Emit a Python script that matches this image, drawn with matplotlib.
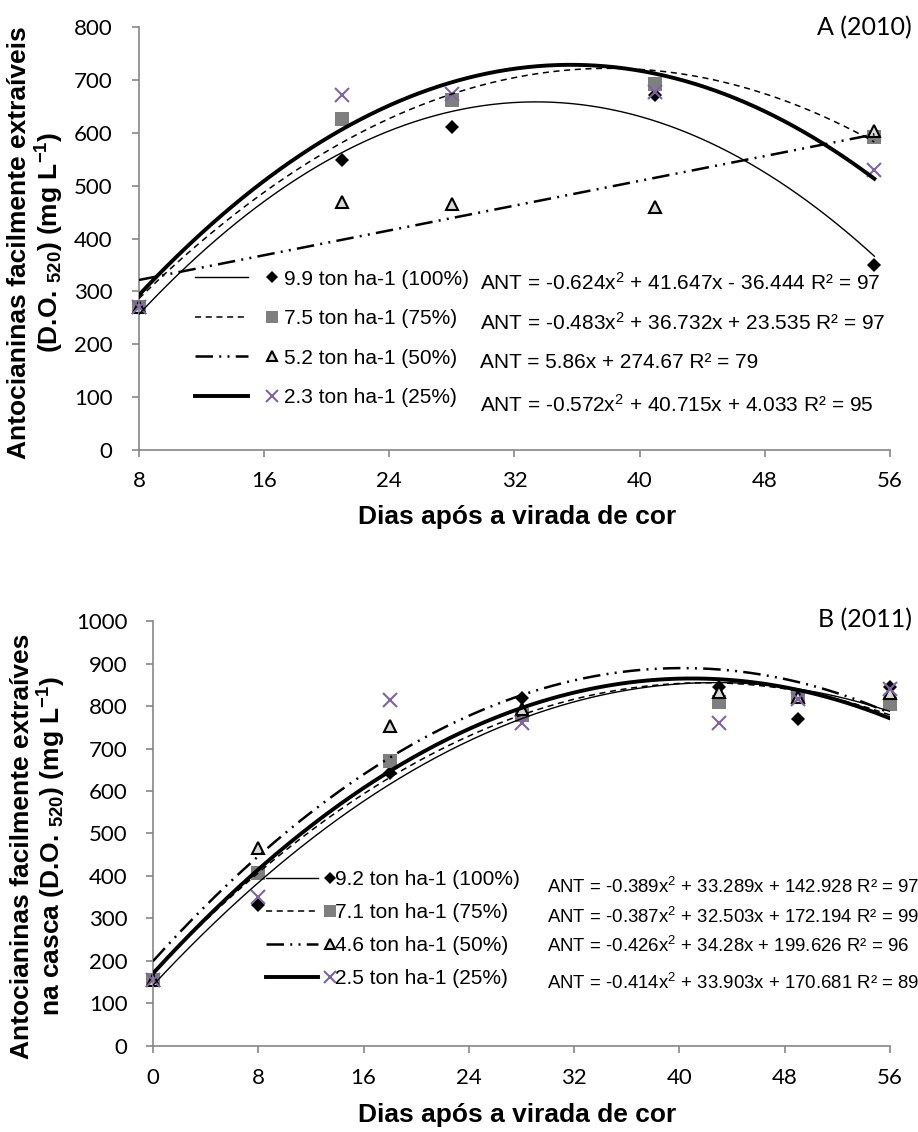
import numpy as np
import matplotlib
matplotlib.use("Agg")
import matplotlib.pyplot as plt
from matplotlib.lines import Line2D
from matplotlib.legend_handler import HandlerTuple

plt.rcParams['font.family'] = ['Lato', 'DejaVu Sans']
plt.rcParams['mathtext.fontset'] = 'custom'
plt.rcParams['mathtext.rm'] = 'Liberation Sans'
plt.rcParams['mathtext.it'] = 'Liberation Sans:italic'
plt.rcParams['mathtext.bf'] = 'Liberation Sans:bold'

# ---- 2010 ----
dias_a = [8, 21, 28, 41, 55]
a_100 = [270, 548, 611, 671, 350]
a_75 = [270, 627, 662, 693, 592]
a_50 = [270, 469, 465, 460, 604]
a_25 = [270, 671, 674, 677, 529]
coef_a = [[-0.624, 41.647, -36.444],
          [-0.483, 36.732, 23.535],
          [5.86, 274.67],
          [-0.572, 40.715, 4.033]]
lab_a = ["9.9 ton ha-1 (100%)", "7.5 ton ha-1 (75%)",
         "5.2 ton ha-1 (50%)", "2.3 ton ha-1 (25%)"]
eq_a = ["ANT = -0.624x$^2$ + 41.647x - 36.444 R² = 97",
        "ANT = -0.483x$^2$ + 36.732x + 23.535 R² = 97",
        "ANT = 5.86x + 274.67 R² = 79",
        "ANT = -0.572x$^2$ + 40.715x + 4.033 R² = 95"]
eq_a_y = [316, 240, 166, 85]

# ---- 2011 ----
dias_b = [0, 8, 18, 28, 43, 49, 56]
b_100 = [155, 332, 643, 819, 845, 770, 845]
b_75 = [155, 407, 671, 778, 810, 822, 805]
b_50 = [155, 466, 754, 794, 833, 822, 830]
b_25 = [155, 351, 814, 761, 761, 817, 840]
coef_b = [[-0.389, 33.289, 142.928],
          [-0.387, 32.503, 172.194],
          [-0.426, 34.28, 199.626],
          [-0.414, 33.903, 170.681]]
lab_b = ["9.2 ton ha-1 (100%)", "7.1 ton ha-1 (75%)",
         "4.6 ton ha-1 (50%)", "2.5 ton ha-1 (25%)"]
eq_b = ["ANT = -0.389x$^2$ + 33.289x + 142.928 R² = 97",
        "ANT = -0.387x$^2$ + 32.503x + 172.194 R² = 99",
        "ANT = -0.426x$^2$ + 34.28x + 199.626 R² = 96",
        "ANT = -0.414x$^2$ + 33.903x + 170.681 R² = 89"]
eq_b_y = [374, 304, 235, 148]

# styles
lstyle = ['-', (0, (4, 3)), (0, (7, 2.5, 0.8, 2.5, 0.8, 2.5)), '-']
lwidth = [1.0, 1.1, 1.8, 2.8]
mk = ['D', 's', '^', 'x']
mfc = ['black', '#7f7f7f', '#d9d9d9', '#8064a2']
mec = ['black', '#7f7f7f', 'black', '#8064a2']
msz = [7, 10, 9, 10]
mew = [0, 0, 1.5, 1.5]
grey = '#868686'
SANS = 'Liberation Sans'

fig = plt.figure(figsize=(9.18, 11.32), dpi=100)
ax1 = fig.add_axes([0.1514, 0.6025, 0.8181, 0.3736])
ax2 = fig.add_axes([0.1667, 0.0760, 0.8028, 0.3754])


def draw(ax, dias, series, coefs, x0, x1):
    xf = np.linspace(x0, x1, 300)
    for i in range(4):
        ax.plot(dias, series[i], ls='none', marker=mk[i], ms=msz[i],
                mfc=mfc[i], mec=mec[i], mew=mew[i], zorder=2, clip_on=False)
        ax.plot(xf, np.polyval(coefs[i], xf), color='black', ls=lstyle[i],
                lw=lwidth[i], zorder=3)


def style(ax, ypad, xpad):
    for s in ['top', 'right']:
        ax.spines[s].set_visible(False)
    for s in ['left', 'bottom']:
        ax.spines[s].set_color(grey)
        ax.spines[s].set_linewidth(1.2)
    ax.tick_params(axis='both', direction='out', length=5, width=1.2,
                   color=grey, labelsize=16)
    ax.tick_params(axis='y', pad=ypad)
    ax.tick_params(axis='x', pad=xpad)


def legend(ax, labels, anchor, hl, pad, htp, lsp):
    handles = []
    for i in range(4):
        ln = Line2D([], [], color='black', ls=lstyle[i], lw=lwidth[i])
        m = Line2D([], [], ls='none', marker=mk[i], ms=msz[i] * 0.85,
                   mfc=mfc[i], mec=mec[i], mew=mew[i])
        handles.append((ln, m))
    ax.legend(handles, labels, handler_map={tuple: HandlerTuple(ndivide=2, pad=pad)},
              loc='upper left', bbox_to_anchor=anchor, bbox_transform=ax.transData,
              frameon=False, borderpad=0, borderaxespad=0, handlelength=hl,
              handleheight=0.7, handletextpad=htp, labelspacing=lsp,
              prop={'family': SANS, 'size': 15})


# panel A
draw(ax1, dias_a, [a_100, a_75, a_50, a_25], coef_a, 8, 55)
ax1.set_xlim(8, 56)
ax1.set_ylim(0, 800)
ax1.set_xticks(np.arange(8, 57, 8))
ax1.set_yticks(np.arange(0, 801, 100))
style(ax1, 14, 10)
legend(ax1, lab_a, (11.6, 341), 4.97, -0.12, -0.70, 0.98)
for i in range(4):
    ax1.text(29.8, eq_a_y[i], eq_a[i], fontsize=15, family=SANS, va='center', ha='left')
ax1.set_ylabel("Antocianinas facilmente extraíveis\n(D.O. $\\mathbf{_{520}}$) (mg L$\\mathbf{^{-1}}$)",
               fontsize=19, fontweight='bold', family=SANS, linespacing=1.1)
ax1.yaxis.set_label_coords(-0.097, 0.49)
ax1.set_xlabel("Dias após a virada de cor", fontsize=19, fontweight='bold', family=SANS)
ax1.xaxis.set_label_coords(0.503, -0.130)

# panel B
draw(ax2, dias_b, [b_100, b_75, b_50, b_25], coef_b, 0, 56)
ax2.set_xlim(0, 56)
ax2.set_ylim(0, 1000)
ax2.set_xticks(np.arange(0, 57, 8))
ax2.set_yticks(np.arange(0, 1001, 100))
style(ax2, 13.5, 11)
legend(ax2, lab_b, (8.6, 414), 4.3, -0.70, -1.0, 0.67)
for i in range(4):
    ax2.text(29.9, eq_b_y[i], eq_b[i], fontsize=13.4, family=SANS, va='center', ha='left')
ax2.set_ylabel("Antocianinas facilmente extraíves\nna casca (D.O. $\\mathbf{_{520}}$) (mg L$\\mathbf{^{-1}}$)",
               fontsize=19, fontweight='bold', family=SANS, linespacing=1.1)
ax2.yaxis.set_label_coords(-0.115, 0.47)
ax2.set_xlabel("Dias após a virada de cor", fontsize=19, fontweight='bold', family=SANS)
ax2.xaxis.set_label_coords(0.494, -0.134)

fig.text(912 / 918, 1 - 28 / 1132, "A (2010)", fontsize=18, ha='right', va='center')
fig.text(912 / 918, 1 - 620 / 1132, "B (2011)", fontsize=18, ha='right', va='center')

fig.savefig("out.png", dpi=100)
